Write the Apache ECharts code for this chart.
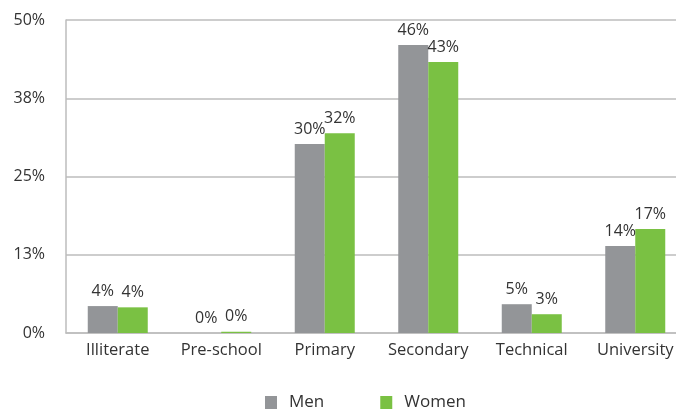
<!DOCTYPE html>
<html>
<head>
<meta charset="utf-8">
<script src="https://cdn.jsdelivr.net/npm/echarts@6/dist/echarts.min.js"></script>
<style>
  html, body { margin: 0; padding: 0; background: #fff; }
  #chart { width: 676px; height: 409px; }
</style>
</head>
<body>
<div id="chart"></div>
<script>
// education level by sex, share in %
const categories = ['Illiterate', 'Pre-school', 'Primary', 'Secondary', 'Technical', 'University']
const men = [4.3, 0, 30.2, 46.0, 4.6, 13.9]
const women = [4.1, 0.2, 31.9, 43.3, 3.0, 16.6]
const yTicks = [0, 12.5, 25, 37.5, 50]

const FONT = '"Open Sans", sans-serif'
const GRID_COLOR = '#bdbdbd'

const chart = echarts.init(document.getElementById('chart'))

const label = {
  show: true,
  position: 'top',
  distance: 7,
  color: '#333',
  fontFamily: FONT,
  fontSize: 16,
  formatter: p => Math.round(p.value) + '%'
}

chart.setOption({
  animation: false,
  textStyle: { fontFamily: FONT },
  grid: {
    left: 66,
    width: 621,
    top: 20,
    bottom: 76,
    outerBoundsMode: 'none'
  },
  legend: {
    top: 389,
    left: 260,
    icon: 'rect',
    itemWidth: 12,
    itemHeight: 13,
    itemGap: 56,
    textStyle: { fontFamily: FONT, fontSize: 17, color: '#333', padding: [0, 0, 0, 7] },
    data: ['Men', 'Women']
  },
  xAxis: {
    type: 'category',
    data: categories,
    axisTick: { show: false },
    axisLine: { lineStyle: { color: GRID_COLOR, width: 1.5 } },
    axisLabel: { color: '#333', fontSize: 16.5, fontFamily: FONT, margin: 9, interval: 0 }
  },
  yAxis: {
    type: 'value',
    min: yTicks[0],
    max: yTicks[yTicks.length - 1],
    interval: yTicks[1] - yTicks[0],
    axisLine: { show: true, lineStyle: { color: GRID_COLOR, width: 1.5 } },
    axisTick: { show: false },
    splitLine: { lineStyle: { color: GRID_COLOR, width: 1.5 } },
    axisLabel: {
      color: '#333',
      fontSize: 16,
      fontFamily: FONT,
      margin: 21,
      formatter: v => Math.round(v) + '%'
    }
  },
  series: [
    {
      name: 'Men',
      type: 'bar',
      data: men,
      barWidth: 30,
      barGap: '0%',
      itemStyle: { color: '#939598' },
      label: label
    },
    {
      name: 'Women',
      type: 'bar',
      data: women,
      barWidth: 30,
      itemStyle: { color: '#7ac143' },
      label: label
    }
  ]
})
</script>
</body>
</html>
